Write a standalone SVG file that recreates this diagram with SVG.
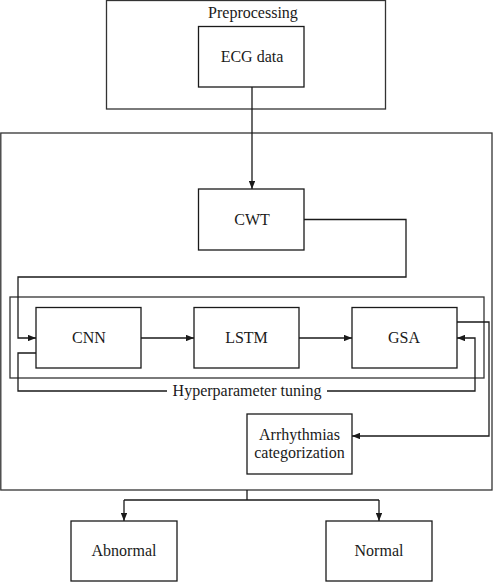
<svg xmlns="http://www.w3.org/2000/svg" width="493" height="582" viewBox="0 0 493 582">
<style>
.box{fill:#fff;stroke:#1a1a1a;stroke-width:1.3}
.frame{fill:none;stroke:#333;stroke-width:1.3}
.ln{fill:none;stroke:#1a1a1a;stroke-width:1.3}
.t{font-family:'Liberation Serif',serif;font-size:16px;fill:#1a1a1a;text-anchor:middle}
</style>
<defs>
<marker id="ah" viewBox="0 0 10 8" refX="10" refY="4" markerWidth="8" markerHeight="6.4" markerUnits="userSpaceOnUse" orient="auto">
<path d="M0,0 L10,4 L0,8 Z" fill="#1a1a1a"/>
</marker>
</defs>
<g id="preprocessing">
<rect class="frame" x="106.5" y="0.5" width="279" height="108.5"/>
<text class="t" x="253" y="18">Preprocessing</text>
</g>
<g id="ecg">
<rect class="box" x="198.5" y="26.5" width="105.5" height="60.5"/>
<text class="t" x="252" y="62">ECG data</text>
</g>
<g id="main-frame">
<rect class="frame" x="0.8" y="133" width="491.2" height="357"/>
</g>
<g id="hyper-frame">
<rect class="frame" x="10" y="297" width="474" height="81"/>
</g>
<g id="connectors">
<path class="ln" d="M252,87 V189" marker-end="url(#ah)"/>
<path class="ln" d="M304,219.5 H406 V277 H18 V338 H36" marker-end="url(#ah)"/>
<path class="ln" d="M141,338 H194" marker-end="url(#ah)"/>
<path class="ln" d="M299,338 H352" marker-end="url(#ah)"/>
<path class="ln" d="M36,353 H18 V391 H475 V338 H457" marker-end="url(#ah)"/>
<path class="ln" d="M457,322 H489 V436 H352" marker-end="url(#ah)"/>
<path class="ln" d="M247,490 V500 M124,500 H379"/>
<path class="ln" d="M124,500 V521" marker-end="url(#ah)"/>
<path class="ln" d="M379,500 V521" marker-end="url(#ah)"/>
<rect x="167" y="382" width="160" height="18" fill="#fff"/>
<text class="t" x="247" y="396">Hyperparameter tuning</text>
</g>
<g id="cwt">
<rect class="box" x="198.5" y="189" width="105.5" height="61"/>
<text class="t" x="252" y="225">CWT</text>
</g>
<g id="cnn">
<rect class="box" x="36" y="307.5" width="105" height="60.5"/>
<text class="t" x="89" y="343">CNN</text>
</g>
<g id="lstm">
<rect class="box" x="194" y="307.5" width="105" height="60.5"/>
<text class="t" x="246.5" y="343">LSTM</text>
</g>
<g id="gsa">
<rect class="box" x="352" y="307.5" width="105" height="60.5"/>
<text class="t" x="404" y="343">GSA</text>
</g>
<g id="arrhythmias">
<rect class="box" x="247" y="414" width="105" height="60"/>
<text class="t" x="299.5" y="440">Arrhythmias</text>
<text class="t" x="299.5" y="458">categorization</text>
</g>
<g id="abnormal">
<rect class="box" x="71" y="521" width="106" height="60"/>
<text class="t" x="124" y="556">Abnormal</text>
</g>
<g id="normal">
<rect class="box" x="326" y="521" width="106" height="60"/>
<text class="t" x="379" y="556">Normal</text>
</g>
</svg>
